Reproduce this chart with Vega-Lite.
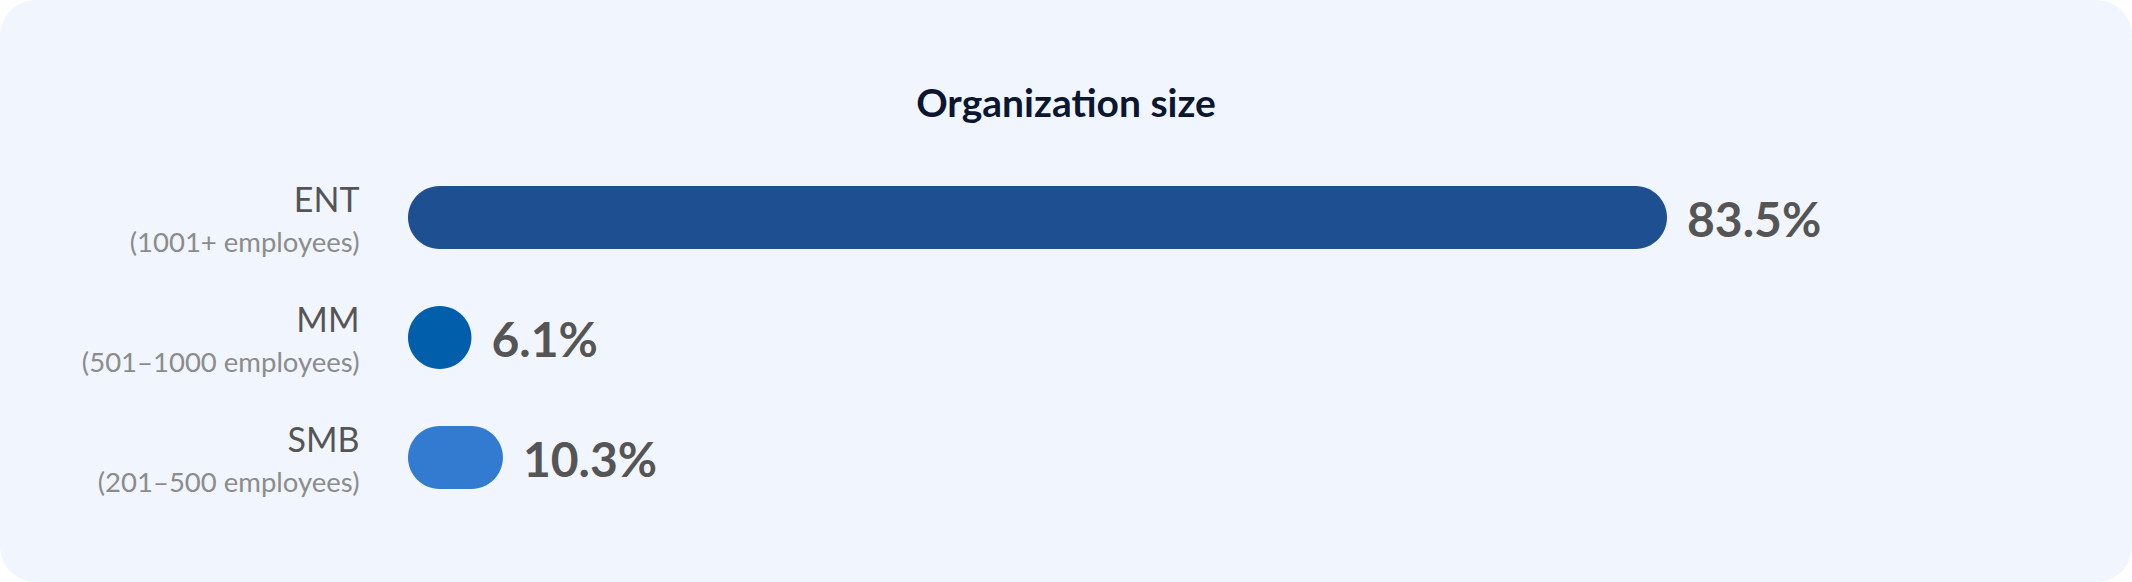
{
  "$schema": "https://vega.github.io/schema/vega-lite/v6.json",
  "width": 2132,
  "height": 582,
  "autosize": "none",
  "padding": 0,
  "background": "#ffffff",
  "title": {
    "text": "Organization size",
    "anchor": "middle",
    "font": "Lato",
    "fontSize": 39,
    "fontWeight": "bold",
    "color": "#0b1631",
    "baseline": "alphabetic",
    "offset": -156
  },
  "data": {
    "values": [
      {"size": "ENT", "desc": "(1001+ employees)", "share": 0.835},
      {"size": "MM", "desc": "(501–1000 employees)", "share": 0.061},
      {"size": "SMB", "desc": "(201–500 employees)", "share": 0.103}
    ]
  },
  "encoding": {
    "y": {
      "field": "size",
      "type": "nominal",
      "sort": ["ENT", "MM", "SMB"],
      "scale": {"paddingInner": 0, "paddingOuter": 0.925, "align": 0.7095}
    },
    "color": {
      "field": "size",
      "type": "nominal",
      "scale": {"domain": ["ENT", "MM", "SMB"], "range": ["#1e4f91", "#005eaa", "#327bd0"]},
      "legend": null
    }
  },
  "layer": [
    {
      "transform": [{"filter": "datum.share >= 0.0832"}],
      "mark": {"type": "bar", "height": 63, "cornerRadius": 31.5},
      "encoding": {
        "x": {
          "field": "share",
          "type": "quantitative",
          "scale": {"domain": [-0.21326, 1.1274], "nice": false, "zero": false},
          "axis": null
        },
        "x2": {"datum": 0.0433},
        "y": {
          "field": "size",
          "type": "nominal",
          "sort": ["ENT", "MM", "SMB"],
          "axis": {
            "orient": "left",
            "offset": -359,
            "title": null,
            "domain": false,
            "ticks": false,
            "grid": false,
            "labelPadding": 0,
            "labelLimit": 0,
            "labelFont": "Lato",
            "labelFontSize": 34,
            "labelColor": "#555555",
            "labelBaseline": "alphabetic",
            "labelOffset": -5.5
          }
        }
      }
    },
    {
      "transform": [{"filter": "datum.share < 0.0832"}],
      "mark": {"type": "bar", "height": 63, "cornerRadius": 31.5},
      "encoding": {
        "x": {"datum": 0.0832, "type": "quantitative"},
        "x2": {"datum": 0.0433},
        "y": {"field": "size", "type": "nominal", "sort": ["ENT", "MM", "SMB"], "axis": null}
      }
    },
    {
      "transform": [{"filter": "datum.share >= 0.0832"}],
      "mark": {
        "type": "text",
        "align": "left",
        "baseline": "alphabetic",
        "dx": 20,
        "dy": 19,
        "font": "Lato",
        "fontSize": 48,
        "fontWeight": "bold"
      },
      "encoding": {
        "x": {"field": "share", "type": "quantitative"},
        "text": {"field": "share", "type": "quantitative", "format": ".1%"},
        "color": {"value": "#555555"},
        "y": {
          "field": "size",
          "type": "nominal",
          "sort": ["ENT", "MM", "SMB"],
          "axis": {
            "orient": "left",
            "offset": -359,
            "title": null,
            "domain": false,
            "ticks": false,
            "grid": false,
            "labelPadding": 0,
            "labelLimit": 0,
            "labelFont": "Lato",
            "labelFontSize": 27.5,
            "labelColor": "#8c8c8c",
            "labelBaseline": "alphabetic",
            "labelOffset": 34.5,
            "labelExpr": "datum.value == 'ENT' ? '(1001+ employees)' : datum.value == 'MM' ? '(501–1000 employees)' : '(201–500 employees)'"
          }
        }
      }
    },
    {
      "transform": [{"filter": "datum.share < 0.0832"}],
      "mark": {
        "type": "text",
        "align": "left",
        "baseline": "alphabetic",
        "dx": 20,
        "dy": 19,
        "font": "Lato",
        "fontSize": 48,
        "fontWeight": "bold"
      },
      "encoding": {
        "x": {"datum": 0.0832, "type": "quantitative"},
        "text": {"field": "share", "type": "quantitative", "format": ".1%"},
        "color": {"value": "#555555"},
        "y": {"field": "size", "type": "nominal", "sort": ["ENT", "MM", "SMB"], "axis": null}
      }
    }
  ],
  "resolve": {"axis": {"y": "independent"}},
  "config": {
    "view": {"fill": "#f1f6fe", "stroke": null, "cornerRadius": 36}
  }
}
